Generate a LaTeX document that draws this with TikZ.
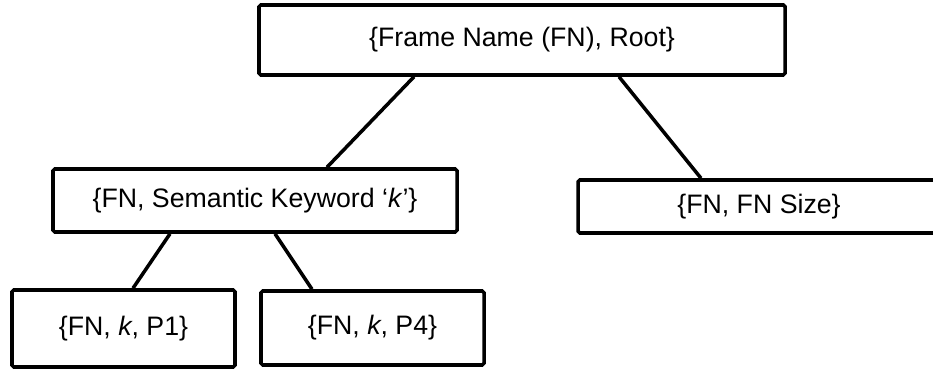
\documentclass[tikz,border=0pt]{standalone}
\usepackage{fontspec}
\setmainfont{Liberation Sans}
\begin{document}
\begin{tikzpicture}[
    box/.style={draw, line width=2pt, rounded corners=1pt, inner sep=0pt,
        font=\fontsize{15.2}{18}\selectfont},
    link/.style={line width=2pt}
]
    \useasboundingbox (0,0) rectangle (18.66,7.42);
    % Frame tree
    \node[box, minimum width=10.52cm, minimum height=1.4cm] (root) at (10.44,6.62) {\{Frame Name (FN), Root\}\hspace{0.4cm}};
    \node[box, minimum width=8.08cm, minimum height=1.26cm] (keyword) at (5.10,3.41) {\{FN, Semantic Keyword ‘\textit{k}’\}\hspace{0.4cm}};
    \node[box, minimum width=7.24cm, minimum height=1.06cm] (size) at (15.18,3.29) {\{FN, FN Size\}};
    \node[box, minimum width=4.46cm, minimum height=1.54cm] (pone) at (2.47,0.85) {\{FN, \textit{k}, P1\}};
    \node[box, minimum width=4.46cm, minimum height=1.48cm] (pfour) at (7.45,0.86) {\{FN, \textit{k}, P4\}};

    % Links
    \draw[link] ([xshift=-2.16cm]root.south) -- ([xshift=1.44cm]keyword.north);
    \draw[link] ([xshift=1.94cm]root.south) -- ([xshift=-1.16cm]size.north);
    \draw[link] ([xshift=-1.70cm]keyword.south) -- ([xshift=0.19cm]pone.north);
    \draw[link] ([xshift=0.40cm]keyword.south) -- ([xshift=-1.21cm]pfour.north);
\end{tikzpicture}
\end{document}
